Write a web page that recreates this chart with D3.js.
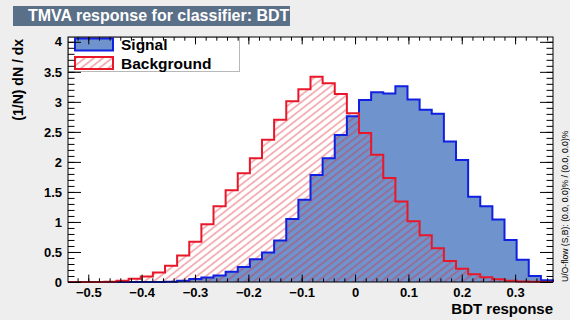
<!DOCTYPE html>
<html>
<head>
<meta charset="utf-8">
<script src="https://cdn.jsdelivr.net/npm/d3@7"></script>
<style>
  html, body { margin: 0; padding: 0; background: #eeeeee; }
  svg { display: block; }
  text { font-family: "Liberation Sans", Arial, Helvetica, sans-serif; }
</style>
</head>
<body>
<svg id="chart" width="570" height="320"></svg>
<script>
// Histogram range and binning of the BDT response
const xRange = [-0.538, 0.371];
const nBins = 40;

// Normalised bin contents (1/N) dN/dx
const signal = [0, 0, 0, 0, 0, 0, 0, 0, 0.005, 0.02,
  0.05, 0.075, 0.11, 0.17, 0.25, 0.38, 0.49, 0.69, 1.05, 1.37,
  1.78, 2.06, 2.45, 2.76, 3.03, 3.16, 3.14, 3.26, 3.04, 2.87,
  2.80, 2.34, 2.03, 1.42, 1.26, 1.04, 0.70, 0.37, 0.10, 0.03];
const background = [0, 0, 0, 0.005, 0.02, 0.055, 0.09, 0.16, 0.27, 0.44,
  0.67, 0.96, 1.26, 1.53, 1.81, 2.06, 2.37, 2.70, 3.01, 3.21,
  3.42, 3.31, 3.13, 2.81, 2.48, 2.12, 1.73, 1.34, 1.01, 0.78,
  0.56, 0.35, 0.22, 0.13, 0.08, 0.045, 0.02, 0.01, 0.005, 0];

// Axis ticks and labels
const xTicks = [-0.5, -0.4, -0.3, -0.2, -0.1, 0, 0.1, 0.2, 0.3];
const xTickLabels = ["\u22120.5", "\u22120.4", "\u22120.3", "\u22120.2", "\u22120.1", "0", "0.1", "0.2", "0.3"];
const yTicks = [0, 0.5, 1, 1.5, 2, 2.5, 3, 3.5, 4];
const yTickLabels = ["0", "0.5", "1", "1.5", "2", "2.5", "3", "3.5", "4"];
const yMax = 4.08;

const titleText = "TMVA response for classifier: BDT";
const legendLabels = ["Signal", "Background"];
const xTitle = "BDT response";
const yTitle = "(1/N) dN / dx";
const flowText = "U/O-flow (S,B): (0.0, 0.0)% / (0.0, 0.0)%";

const frame = { left: 68, right: 553, top: 37, bottom: 282 };
const svg = d3.select("#chart");

const x = d3.scaleLinear().domain(xRange).range([frame.left, frame.right]);
const y = d3.scaleLinear().domain([0, yMax]).range([frame.bottom, frame.top]);

const binW = (xRange[1] - xRange[0]) / nBins;
const edge = i => xRange[0] + i * binW;

// hatch pattern for the background histogram
const defs = svg.append("defs");
defs.append("pattern")
  .attr("id", "hatch")
  .attr("patternUnits", "userSpaceOnUse")
  .attr("width", 10).attr("height", 5.6)
  .attr("patternTransform", "rotate(-38)")
  .append("line")
  .attr("x1", 0).attr("x2", 10).attr("y1", 2.8).attr("y2", 2.8)
  .attr("stroke", "#e02a36").attr("stroke-width", 0.9).attr("stroke-opacity", 0.8);

// canvas background and title box
svg.append("rect").attr("width", 570).attr("height", 320).attr("fill", "#eeeeee");
svg.append("rect").attr("x", 13).attr("y", 6).attr("width", 277).attr("height", 20)
  .attr("fill", "#5a7088");
svg.append("text").attr("x", 28).attr("y", 21)
  .attr("fill", "#ffffff").attr("font-size", 16).attr("font-weight", "bold")
  .text(titleText);

// plot frame
svg.append("rect")
  .attr("x", frame.left).attr("y", frame.top)
  .attr("width", frame.right - frame.left).attr("height", frame.bottom - frame.top)
  .attr("fill", "#ffffff");

function stepPoints(values) {
  const pts = [[edge(0), 0]];
  values.forEach((v, i) => { pts.push([edge(i), v]); pts.push([edge(i + 1), v]); });
  pts.push([edge(values.length), 0]);
  return pts;
}
const line = d3.line().x(d => x(d[0])).y(d => y(d[1]));

// signal: filled
svg.append("path").attr("d", line(stepPoints(signal)) + "Z")
  .attr("fill", "#6f93cc").attr("stroke", "none");
// background: hatched
svg.append("path").attr("d", line(stepPoints(background)) + "Z")
  .attr("fill", "url(#hatch)").attr("stroke", "none");
svg.append("path").attr("d", line(stepPoints(signal)))
  .attr("fill", "none").attr("stroke", "#1020e0").attr("stroke-width", 2);
svg.append("path").attr("d", line(stepPoints(background)))
  .attr("fill", "none").attr("stroke", "#e8182a").attr("stroke-width", 2);

// legend
const lg = svg.append("g");
lg.append("rect").attr("x", 68.5).attr("y", 37.5).attr("width", 171).attr("height", 34)
  .attr("fill", "#ffffff").attr("stroke", "#b8b8b8");
lg.append("rect").attr("x", 75).attr("y", 38.5).attr("width", 38).attr("height", 12)
  .attr("fill", "#6f93cc").attr("stroke", "#1020e0").attr("stroke-width", 2);
lg.append("rect").attr("x", 75).attr("y", 57).attr("width", 38).attr("height", 12)
  .attr("fill", "url(#hatch)").attr("stroke", "#e8182a").attr("stroke-width", 2);
legendLabels.forEach((t, i) => {
  lg.append("text").attr("x", 121).attr("y", 50 + i * 18.5)
    .attr("font-size", 15.5).attr("font-weight", "bold").attr("fill", "#000")
    .text(t);
});

// axes (ticks pointing into the frame)
const xMinor = d3.range(-0.52, 0.371, 0.02).filter(v => v >= xRange[0]);
const yMinor = d3.range(0, yMax, 0.1);

function styleAxis(g) {
  g.selectAll(".domain").remove();
  g.selectAll("line").attr("stroke", "#000");
}

svg.append("g").attr("transform", `translate(0,${frame.bottom})`)
  .call(d3.axisBottom(x).tickValues(xMinor).tickSize(-3.7).tickFormat(""))
  .call(styleAxis);
svg.append("g").attr("transform", `translate(0,${frame.bottom})`)
  .call(d3.axisBottom(x).tickValues(xTicks).tickSize(-7.4).tickPadding(6)
    .tickFormat((d, i) => xTickLabels[i]))
  .call(styleAxis)
  .call(g => g.selectAll("text").attr("font-size", 13).attr("font-weight", "bold")
    .attr("fill", "#000").attr("font-family", "'Liberation Sans', Arial, sans-serif"));
svg.append("g").attr("transform", `translate(0,${frame.top})`)
  .call(d3.axisTop(x).tickValues(xMinor).tickSize(-3.7).tickFormat(""))
  .call(styleAxis);
svg.append("g").attr("transform", `translate(0,${frame.top})`)
  .call(d3.axisTop(x).tickValues(xTicks).tickSize(-7.4).tickFormat(""))
  .call(styleAxis);

svg.append("g").attr("transform", `translate(${frame.left},0)`)
  .call(d3.axisLeft(y).tickValues(yMinor).tickSize(-6.5).tickFormat(""))
  .call(styleAxis);
svg.append("g").attr("transform", `translate(${frame.left},0)`)
  .call(d3.axisLeft(y).tickValues(yTicks).tickSize(-13).tickPadding(6)
    .tickFormat((d, i) => yTickLabels[i]))
  .call(styleAxis)
  .call(g => g.selectAll("text").attr("font-size", 13).attr("font-weight", "bold")
    .attr("fill", "#000").attr("font-family", "'Liberation Sans', Arial, sans-serif"));
svg.append("g").attr("transform", `translate(${frame.right},0)`)
  .call(d3.axisRight(y).tickValues(yMinor).tickSize(-6.5).tickFormat(""))
  .call(styleAxis);
svg.append("g").attr("transform", `translate(${frame.right},0)`)
  .call(d3.axisRight(y).tickValues(yTicks).tickSize(-13).tickFormat(""))
  .call(styleAxis);

// frame border
svg.append("rect")
  .attr("x", frame.left).attr("y", frame.top)
  .attr("width", frame.right - frame.left).attr("height", frame.bottom - frame.top)
  .attr("fill", "none").attr("stroke", "#000").attr("stroke-width", 1);

// axis titles
svg.append("text").attr("x", frame.right).attr("y", 314)
  .attr("text-anchor", "end").attr("font-size", 15).attr("font-weight", "bold")
  .text(xTitle);
svg.append("text")
  .attr("transform", `translate(23,${frame.top + 2}) rotate(-90)`)
  .attr("text-anchor", "end").attr("font-size", 14).attr("font-weight", "bold")
  .text(yTitle);
svg.append("text")
  .attr("transform", `translate(567.5,${frame.bottom}) rotate(-90)`)
  .attr("text-anchor", "start").attr("font-size", 8.6).attr("fill", "#000")
  .text(flowText);
</script>
</body>
</html>
